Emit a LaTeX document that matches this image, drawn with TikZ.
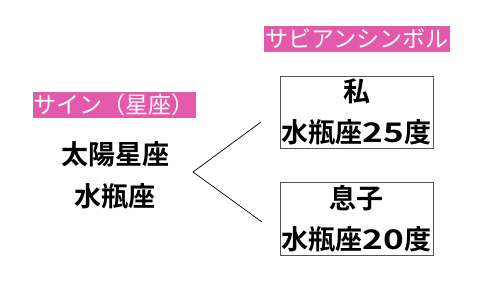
\documentclass[tikz,border=0pt]{standalone}
\usepackage{fontspec}
\usetikzlibrary{positioning}
\newfontfamily\jpfont{Noto Sans CJK JP}
\newfontfamily\jpbold{Noto Sans CJK JP Bold}
\newfontfamily\digitbold{Noto Sans CJK JP Bold}[FakeStretch=1.3]
\newcommand{\degnum}[1]{{\digitbold #1}}
\definecolor{tagpink}{HTML}{E45AAA}
\definecolor{boxgray}{HTML}{555555}

\begin{document}
\begin{tikzpicture}[x=1pt,y=-1pt,
    tag/.style={fill=tagpink,text=white,inner xsep=1pt,inner ysep=0pt,
      minimum height=26pt,font=\jpfont\fontsize{23}{26}\selectfont},
    symbolbox/.style={draw=boxgray,line width=0.8pt,minimum width=153pt,
      minimum height=72pt,inner sep=0pt,align=center,
      font=\jpbold\fontsize{27}{41}\selectfont}]
    \useasboundingbox (0,0) rectangle (481,284);
    % labels
    \node[tag] (signtag) at (114,105) {サイン（星座）};
    \node[tag] (sabiantag) at (357,39) {サビアンシンボル};
    % left side
    \node[align=center,inner sep=0pt,font=\jpbold\fontsize{27}{42}\selectfont]
      (sun) at (115,175) {太陽星座\\水瓶座};
    % right side
    \node[symbolbox] (me) at (356.5,112) {私\\水瓶座\degnum{25}度};
    \node[symbolbox,minimum height=73pt] (son) at (356.5,218.5) {息子\\水瓶座\degnum{20}度};
    \coordinate (fork) at (193,172);
    \coordinate (meend) at (261,122);
    \coordinate (sonend) at (262,222);
    \draw[line width=0.7pt] (meend) -- (fork) -- (sonend);
  \end{tikzpicture}
\end{document}
